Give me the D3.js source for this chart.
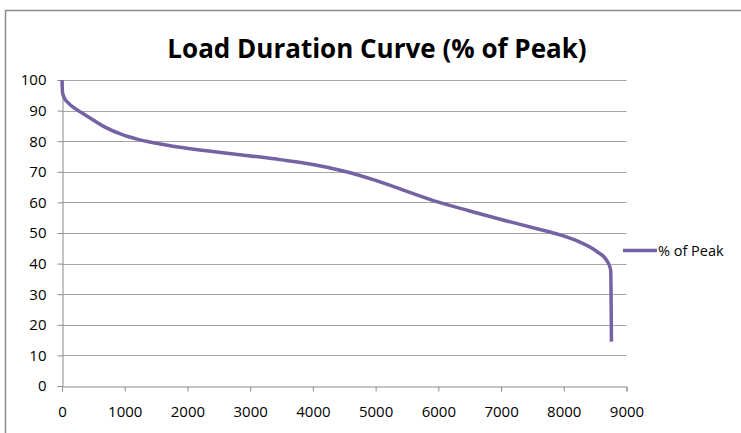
<!DOCTYPE html>
<html>
<head>
<meta charset="utf-8">
<script src="https://cdn.jsdelivr.net/npm/d3@7"></script>
<style>
  body { margin: 0; background: #fff; }
  text { font-family: "Open Sans", "DejaVu Sans", sans-serif; fill: #000; }
</style>
</head>
<body>
<div id="chart"></div>
<script>
// values (hours of the year vs % of peak load)
var hours   = [0, 8, 30, 100, 207, 415, 686, 952, 1212, 1483, 1881, 2500, 3000, 3500, 4000, 4500, 5000, 5500, 6000, 6500, 7000, 7573, 7940, 8259, 8530, 8689, 8748, 8760];
var percent = [100, 96, 94.5, 92.5, 90.7, 88, 84.6, 82.2, 80.6, 79.4, 78, 76.4, 75.2, 73.9, 72.4, 70.2, 67.2, 63.6, 60.1, 57.2, 54.4, 51.4, 49.4, 47, 43.9, 40.9, 37.9, 14.5];
var xTicks = [0, 1000, 2000, 3000, 4000, 5000, 6000, 7000, 8000, 9000];
var yTicks = [0, 10, 20, 30, 40, 50, 60, 70, 80, 90, 100];
var seriesName = "% of Peak";
var chartTitle = "Load Duration Curve (% of Peak)";

var width = 741, height = 433;
var lineColor = "#7462a2";

var svg = d3.select("#chart").append("svg")
  .attr("width", width)
  .attr("height", height);

// outer chart frame (only top and left edges visible in the crop)
svg.append("path")
  .attr("d", "M5.5," + height + "V10.5H" + width)
  .style("fill", "none")
  .style("stroke", "#8c8c8c")
  .style("stroke-width", 1.5);

var x = d3.scaleLinear().domain([0, 9000]).range([62, 626.5]);
var y = d3.scaleLinear().domain([0, 100]).range([386, 80]);

// title
svg.append("text")
  .attr("x", 377)
  .attr("y", 58)
  .attr("text-anchor", "middle")
  .style("font-weight", 700)
  .style("font-size", "26px")
  .text(chartTitle);

// gridlines
svg.selectAll(".grid")
  .data(yTicks.filter(function(d) { return d > 0; }))
  .enter()
  .append("line")
    .attr("class", "grid")
    .attr("x1", x(0)).attr("x2", x(9000))
    .attr("y1", function(d) { return Math.round(y(d)) + 0.5; })
    .attr("y2", function(d) { return Math.round(y(d)) + 0.5; })
    .style("stroke", "#a6a6a6")
    .style("stroke-width", 1);

// y axis
var yAxis = svg.append("g")
  .attr("transform", "translate(" + (x(0) + 0.5) + ",0)")
  .call(d3.axisLeft(y).tickValues(yTicks).tickSize(5).tickPadding(11));

// x axis
var xAxis = svg.append("g")
  .attr("transform", "translate(0," + (Math.round(y(0)) + 0.5) + ")")
  .call(d3.axisBottom(x).tickValues(xTicks).tickSize(5).tickPadding(15).tickFormat(d3.format("d")));

[yAxis, xAxis].forEach(function(g) {
  g.select(".domain").style("stroke", "#8c8c8c");
  g.selectAll(".tick line").style("stroke", "#8c8c8c");
  g.selectAll(".tick text")
    .style("font-family", "'Open Sans', sans-serif")
    .style("font-size", "15px")
    .style("fill", "#000");
});

// the curve
var line = d3.line()
  .x(function(d) { return x(d[0]); })
  .y(function(d) { return y(d[1]); })
  .curve(d3.curveMonotoneX);

svg.append("path")
  .datum(d3.zip(hours, percent))
  .attr("d", line)
  .style("fill", "none")
  .style("stroke", lineColor)
  .style("stroke-width", 3.5)
  .style("stroke-linejoin", "round");

// legend
svg.append("line")
  .attr("x1", 623).attr("x2", 657)
  .attr("y1", 250.5).attr("y2", 250.5)
  .style("stroke", lineColor)
  .style("stroke-width", 3.5);

svg.append("text")
  .attr("x", 658)
  .attr("y", 255.5)
  .style("font-size", "14.5px")
  .text(seriesName);
</script>
</body>
</html>
